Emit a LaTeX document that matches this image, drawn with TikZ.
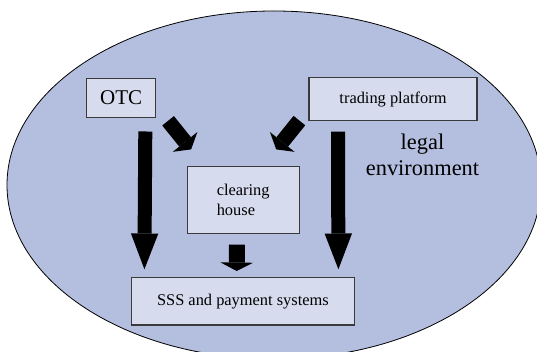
\documentclass[tikz,border=0pt]{standalone}
\usepackage{fontspec}
\setmainfont{Liberation Serif}
\usepackage{tikz}
\usetikzlibrary{arrows.meta,calc}
\definecolor{cEnv}{HTML}{B4BEDE}
\definecolor{cBox}{HTML}{D7DBEE}
\definecolor{cEdge}{HTML}{3A3A3A}
\tikzset{
  env/.style={draw=black,fill=cEnv,line width=0.4pt},
  ibox/.style={draw=cEdge,fill=cBox,line width=0.6pt,inner sep=0pt,align=center,
    font=\fontsize{8.2}{9.7}\selectfont},
  % block arrows: thick shaft plus a wide triangular head
  fat/.style={line width=7pt,-{Triangle[length=17.9pt,width=13.7pt,line width=0pt]}},
  slant/.style={line width=7.5pt,-{Triangle[length=4.8pt,width=15.8pt,line width=0pt]}},
  stub/.style={line width=8pt,-{Triangle[length=4.2pt,width=16.3pt,line width=0pt]}},
}

\begin{document}
\begin{tikzpicture}[x=0.5pt,y=0.5pt]
  \useasboundingbox (0,0) rectangle (537,352);
  \clip (0,0) rectangle (537,352);
  \draw[env] (274,167) ellipse [x radius=267,y radius=174];

  \node[ibox,minimum width=34.5pt,minimum height=19.2pt,font=\fontsize{10.5}{12}\selectfont] (otc) at (121.2,254) {OTC};
  \node[ibox,minimum width=84pt,minimum height=21.5pt] (tp) at (393,252.8) {trading platform};
  \node[ibox,minimum width=55.9pt,minimum height=33.3pt,align=left] (ch) at (243.2,152) {clearing\\house};
  \node[ibox,minimum width=111.2pt,minimum height=23.8pt] (sss) at (242.9,50.8) {SSS and payment systems};
  \node[font=\fontsize{11.2}{13}\selectfont,align=center] (legal) at (422.5,197) {legal\\environment};

  \draw[fat] ($(otc.south)+(24.1,-13.7)$) -- ($(sss.north west)+(13.3,7.5)$);
  \draw[fat] ($(tp.south)+(-55,-10.3)$) -- ($(sss.north east)+(-16.3,7.5)$);
  \draw[slant] ($(otc.south east)+(11.8,-3)$) -- ($(ch.north west)+(4.4,16.7)$);
  \draw[slant] ($(tp.south west)+(-9,0.7)$) -- ($(ch.north east)+(-23.5,16.7)$);
  \draw[stub] ($(ch.south)+(-6.2,-10.7)$) -- ($(sss.north)+(-6.2,5.8)$);
\end{tikzpicture}
\end{document}
